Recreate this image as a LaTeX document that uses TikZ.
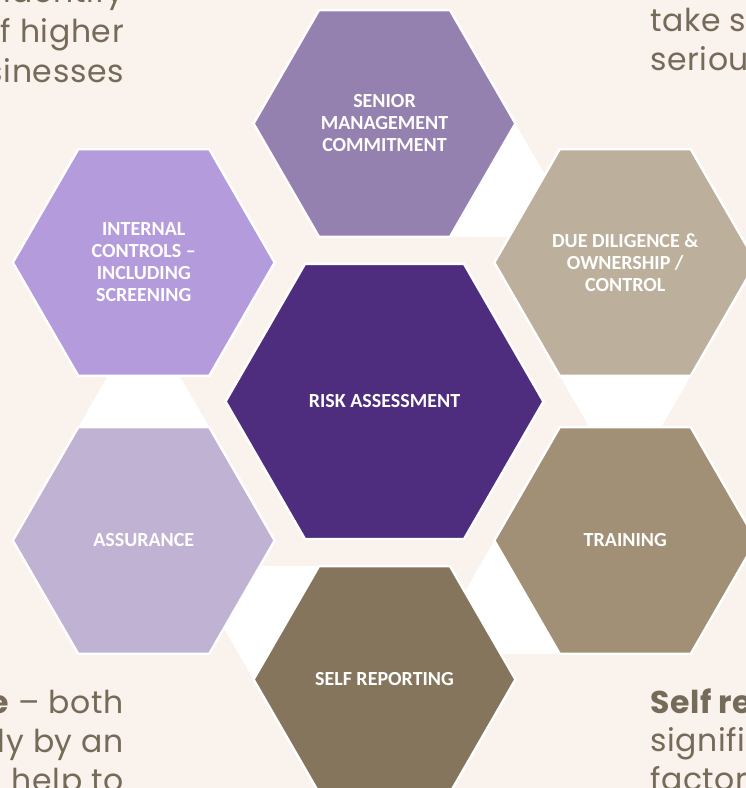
\documentclass[tikz,border=0pt]{standalone}
\usepackage{fontspec}
\setmainfont{Poppins}
\newfontfamily\bodyfont[LetterSpace=2]{Poppins}
\newfontfamily\labelfont{Carlito}
\usetikzlibrary{calc,shapes.geometric}

\definecolor{pagebg}{RGB}{249,242,237}
\definecolor{bodytext}{RGB}{118,106,88}
\definecolor{cSenior}{RGB}{149,129,176}
\definecolor{cInternal}{RGB}{180,155,220}
\definecolor{cDue}{RGB}{188,175,156}
\definecolor{cRisk}{RGB}{78,45,126}
\definecolor{cAssure}{RGB}{192,178,211}
\definecolor{cTrain}{RGB}{162,144,118}
\definecolor{cSelf}{RGB}{133,117,92}

\begin{document}
\begin{tikzpicture}[x=1pt,y=1pt,
  hexbox/.style={regular polygon, regular polygon sides=6, inner sep=0pt,
    draw=white, line width=2.5pt, minimum size=262pt},
  corehex/.style={hexbox, minimum size=318pt},
  hexlabel/.style={font=\labelfont\bfseries\fontsize{20}{22}\selectfont,
    text=white, align=center},
  sideline/.style={font=\bodyfont\fontsize{31.5}{40}\selectfont, text=bodytext,
    inner sep=0pt},
]
\useasboundingbox (0,0) rectangle (746,-788);
\fill[pagebg] (0,0) rectangle (746,-788);
\clip (0,0) rectangle (746,-788);

\def\Rout{131}
\def\dist{278}
\coordinate (C) at (384.5,-401.5);

% white wedges: an equilateral triangle on the edge of each outer hexagon
% that faces its clockwise neighbour (none between the top two on the left)
\foreach \a in {90,30,-30,-90,-150} {
  \fill[white] ($(C)+(\a:\dist)+(\a-150:\Rout)$)
            -- ($(C)+(\a:\dist)+(\a-90:\Rout)$)
            -- ($(C)+(\a:\dist)+(\a-120:226.9)$) -- cycle;
}

% hexagons
\node[corehex, fill=cRisk] (risk) at (C) {};
\node[hexbox, fill=cSenior]   (senior)   at ($(C)+(90:\dist)$)  {};
\node[hexbox, fill=cInternal] (internal) at ($(C)+(150:\dist)$) {};
\node[hexbox, fill=cDue]      (due)      at ($(C)+(30:\dist)$)  {};
\node[hexbox, fill=cAssure]   (assure)   at ($(C)+(210:\dist)$) {};
\node[hexbox, fill=cTrain]    (train)    at ($(C)+(330:\dist)$) {};
\node[hexbox, fill=cSelf]     (selfrep)  at ($(C)+(270:\dist)$) {};

% labels
\node[hexlabel] (lrisk) at (risk) {RISK ASSESSMENT};
\node[hexlabel] (lsenior) at (senior) {SENIOR\\MANAGEMENT\\COMMITMENT};
\node[hexlabel] (linternal) at (internal) {INTERNAL\\CONTROLS –\\INCLUDING\\SCREENING};
\node[hexlabel] (ldue) at (due) {DUE DILIGENCE \&\\OWNERSHIP /\\CONTROL};
\node[hexlabel] (lassure) at (assure) {ASSURANCE};
\node[hexlabel] (ltrain) at (train) {TRAINING};
\node[hexlabel] (lself) at (selfrep) {SELF REPORTING};

% surrounding body text
\node[sideline, anchor=base east] (tl1) at (124,-2)  {identify};
\node[sideline, anchor=base east] (tl2) at (124,-42) {of higher};
\node[sideline, anchor=base east] (tl3) at (124,-82) {businesses};

\node[sideline, anchor=base west] (tr1) at (650,-31) {take sanctions};
\node[sideline, anchor=base west] (tr2) at (650,-70) {seriously};

\node[sideline, anchor=base east] (bl1) at (124,-713) {\textbf{Assurance} – both};
\node[sideline, anchor=base east] (bl2) at (124,-752) {internally by an};
\node[sideline, anchor=base east] (bl3) at (124,-791) {can help to};

\node[sideline, anchor=base west] (br1) at (650,-713) {\textbf{Self reporting}};
\node[sideline, anchor=base west] (br2) at (650,-751) {significant};
\node[sideline, anchor=base west] (br3) at (650,-790) {factor};
\end{tikzpicture}
\end{document}
